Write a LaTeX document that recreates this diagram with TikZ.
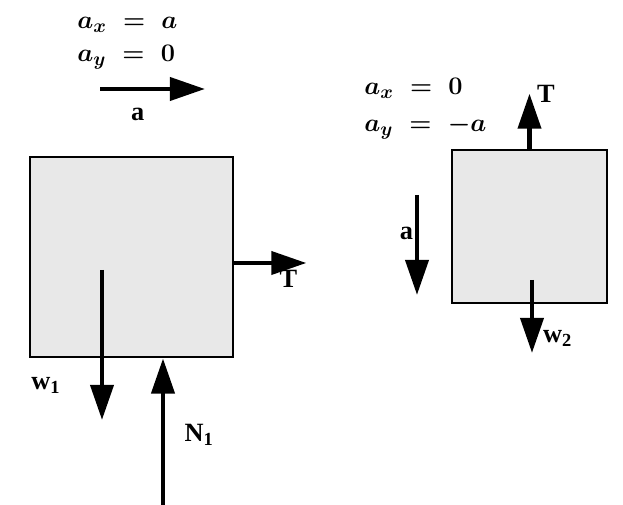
\documentclass[tikz,border=0pt]{standalone}
\usepackage{fontspec}
\setmainfont{Liberation Serif}
\usetikzlibrary{arrows.meta,positioning}
\tikzset{
	block/.style={draw, line width=1.6pt, fill=gray!18},
	force/.style={line width=2.6pt, -{Triangle[length=20pt,width=13pt]}},
	lbl/.style={font=\fontsize{15}{18}\selectfont\bfseries, inner sep=1pt},
	eqn/.style={font=\fontsize{15}{18}\selectfont\boldmath, anchor=west, inner sep=0pt},
}
\begin{document}
\begin{tikzpicture}
		\useasboundingbox (0,0) rectangle (12.46,10.1);
		\node[block, minimum width=4.06cm, minimum height=4cm] (m1) at (2.63,4.96) {};
		\node[block, minimum width=3.1cm, minimum height=3.06cm] (m2) at (10.59,5.57) {};
		\node[eqn] (ax1) at (1.54,9.6) {$a_x \;=\; a$};
		\node[eqn] (ay1) at (1.54,8.96) {$a_y \;=\; 0$};
		\node[eqn] (ax2) at (7.28,8.34) {$a_x \;=\; 0$};
		\node[eqn] (ay2) at (7.28,7.56) {$a_y \;=\; -a$};
		\coordinate (acc1) at (2,8.32);
		\coordinate (acc2) at (8.34,6.2);
		\coordinate (g1) at (2.04,4.7);
		\coordinate (g2) at (10.64,4.5);
		\coordinate (n1) at (3.26,0);
		\draw[force] (acc1) -- ++(2.1,0) node[lbl, pos=0.36, below=0.3cm] (la1) {a};
		\draw[force] ([yshift=-0.12cm]m1.east) -- ++(1.44,0) node[lbl, pos=0.75, below=2pt] (t1) {T};
		\draw[force] (g1) -- ++(0,-3) node[lbl, pos=0.77, left=0.75cm] (w1) {w\textsubscript{1}};
		\draw[force] (n1) -- (n1 |- m1.south) node[lbl, pos=0.48, right=0.35cm] (nn1) {N\textsubscript{1}};
		\draw[force] (m2.north) -- ++(0,1.1) node[lbl, right=2pt] (t2) {T};
		\draw[force] (g2) -- ++(0,-1.46) node[lbl, pos=0.8, right=4pt] (w2) {w\textsubscript{2}};
		\draw[force] (acc2) -- ++(0,-2) node[lbl, pos=0.38, left] (la2) {a};
	\end{tikzpicture}
\end{document}
